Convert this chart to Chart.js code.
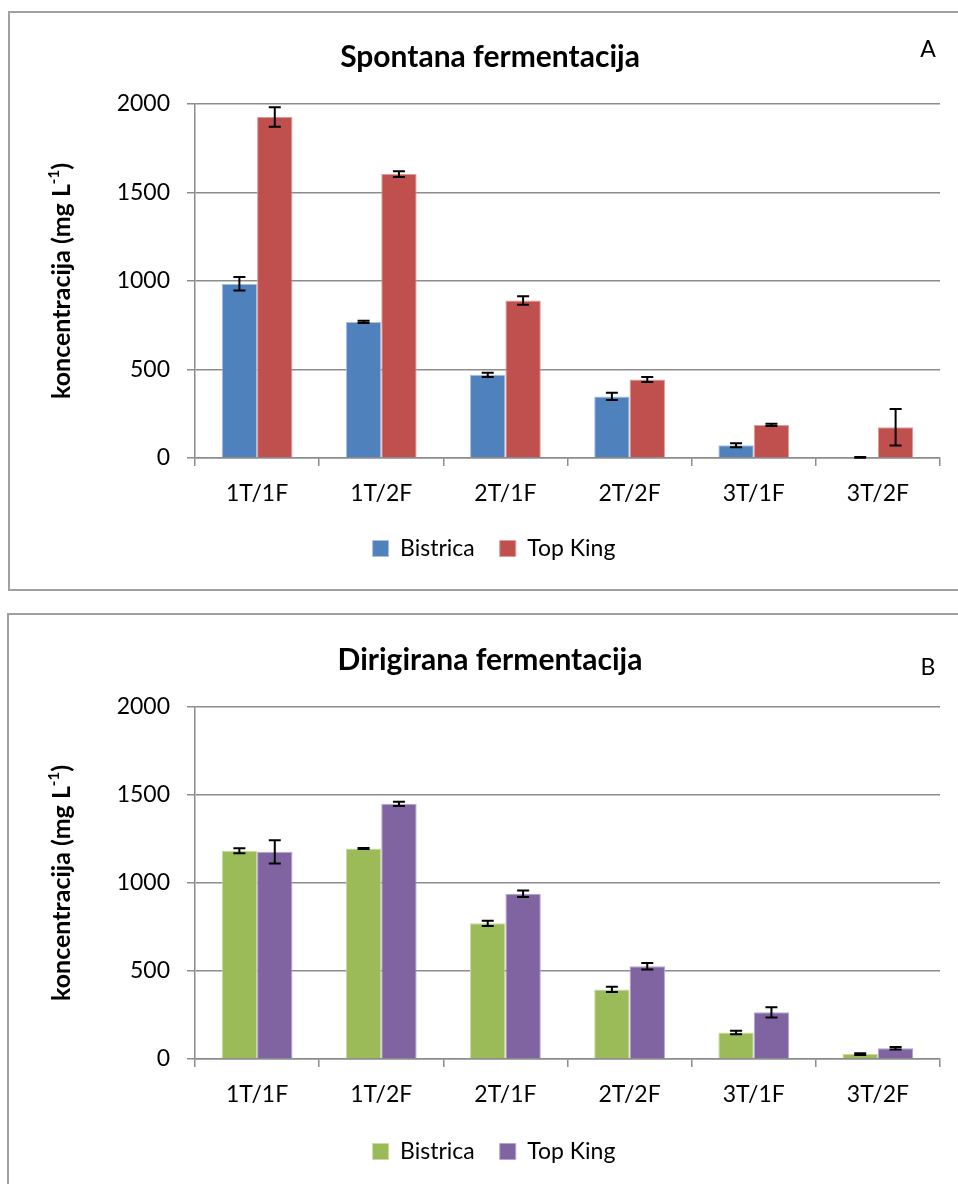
<!DOCTYPE html>
<html>
<head>
<meta charset="utf-8">
<script src="https://cdn.jsdelivr.net/npm/chart.js@4.4.1/dist/chart.umd.min.js"></script>
<style>
  body { margin: 0; background: #fff; width: 958px; height: 1184px; overflow: hidden; position: relative; }
  .frame { position: absolute; border: 2px solid #a0a0a0; }
  canvas { position: absolute; left: 0; }
</style>
</head>
<body>
<div class="frame" style="left:8px; top:11px; width:1000px; height:576px;"></div>
<div class="frame" style="left:7px; top:613px; width:1000px; height:640px;"></div>
<canvas id="chartA" width="958" height="600" style="top:0px;"></canvas>
<canvas id="chartB" width="958" height="584" style="top:600px;"></canvas>
<script>
const categories = ['1T/1F', '1T/2F', '2T/1F', '2T/2F', '3T/1F', '3T/2F'];
const yTicks = [0, 500, 1000, 1500, 2000];

// A - spontana fermentacija
const spontBistrica = [985, 769, 470, 348, 72, 4];
const spontBistricaErr = [38, 6, 12, 20, 11, 2];
const spontTopKing = [1926, 1604, 890, 443, 187, 174];
const spontTopKingErr = [55, 16, 24, 14, 6, 103];

// B - dirigirana fermentacija
const dirBistrica = [1183, 1196, 771, 395, 151, 28];
const dirBistricaErr = [14, 3, 15, 15, 10, 5];
const dirTopKing = [1177, 1450, 939, 527, 265, 61];
const dirTopKingErr = [66, 12, 19, 18, 29, 7];

const FONT = 'Lato, "Open Sans", sans-serif';
const GRID = '#8c8c8c';

// error bars drawn from each bar element + the y scale
const errorBars = {
  id: 'errorBars',
  afterDatasetsDraw(chart) {
    const ctx = chart.ctx;
    const y = chart.scales.y;
    ctx.save();
    ctx.strokeStyle = '#000';
    ctx.lineWidth = 2;
    chart.data.datasets.forEach((ds, i) => {
      const meta = chart.getDatasetMeta(i);
      meta.data.forEach((bar, j) => {
        const v = ds.data[j], e = ds.errors[j];
        const top = y.getPixelForValue(v + e);
        const bot = y.getPixelForValue(v - e);
        ctx.beginPath();
        ctx.moveTo(bar.x, top); ctx.lineTo(bar.x, bot);
        ctx.moveTo(bar.x - 6, top); ctx.lineTo(bar.x + 6, top);
        ctx.moveTo(bar.x - 6, bot); ctx.lineTo(bar.x + 6, bot);
        ctx.stroke();
      });
    });
    ctx.restore();
  }
};

// title, panel letter and y title with superscript
const decorations = {
  id: 'decorations',
  afterDraw(chart) {
    const o = chart.options.plugins.decorations;
    const ctx = chart.ctx;
    const area = chart.chartArea;
    ctx.save();
    ctx.fillStyle = '#000';
    ctx.textBaseline = 'middle';
    ctx.textAlign = 'center';
    ctx.font = 'bold 30px ' + FONT;
    ctx.fillText(o.title, 490, o.titleY);
    ctx.font = '23px ' + FONT;
    ctx.fillText(o.letter, 928, o.letterY);

    // rotated y axis title
    ctx.translate(62, (area.top + area.bottom) / 2);
    ctx.rotate(-Math.PI / 2);
    const main = 'koncentracija (mg L';
    const sup = '-1';
    const end = ')';
    ctx.font = 'bold 25px ' + FONT;
    const w1 = ctx.measureText(main).width;
    const w3 = ctx.measureText(end).width;
    ctx.font = 'bold 15px ' + FONT;
    const w2 = ctx.measureText(sup).width;
    let x = -(w1 + w2 + w3) / 2;
    ctx.textAlign = 'left';
    ctx.font = 'bold 25px ' + FONT;
    ctx.fillText(main, x, 0);
    x += w1;
    ctx.font = 'bold 15px ' + FONT;
    ctx.fillText(sup, x, -8);
    x += w2;
    ctx.font = 'bold 25px ' + FONT;
    ctx.fillText(end, x, 0);
    ctx.restore();
  }
};

function createChart(canvasId, series, colors, borders, deco, topPad, xHeight, bottomPad) {
  const ctx = document.getElementById(canvasId).getContext('2d');
  return new Chart(ctx, {
    type: 'bar',
    data: {
      labels: categories,
      datasets: series.map((s, i) => ({
        label: s.label,
        data: s.data,
        errors: s.errors,
        backgroundColor: colors[i],
        borderColor: borders[i],
        borderWidth: 1,
        barPercentage: 1.0,
        categoryPercentage: 0.57
      }))
    },
    options: {
      responsive: false,
      animation: false,
      devicePixelRatio: 1,
      layout: { padding: { left: 48, right: 18, top: topPad, bottom: bottomPad } },
      scales: {
        x: {
          grid: { drawOnChartArea: false, color: GRID, lineWidth: 1.5, tickLength: 8, offset: true },
          border: { color: GRID, width: 1.5 },
          ticks: { color: '#000', font: { family: FONT, size: 23 }, padding: 14, maxRotation: 0 },
          afterFit(scale) { scale.height = xHeight; }
        },
        y: {
          min: yTicks[0],
          max: yTicks[yTicks.length - 1],
          ticks: {
            stepSize: yTicks[1] - yTicks[0],
            color: '#000',
            font: { family: FONT, size: 23 },
            padding: 17,
            callback: v => String(v)
          },
          grid: { color: GRID, lineWidth: 1.5, tickLength: 8 },
          border: { color: GRID, width: 1.5 },
          afterFit(scale) { scale.width = 147; }
        }
      },
      plugins: {
        legend: {
          position: 'bottom',
          labels: {
            color: '#000',
            font: { family: FONT, size: 23 },
            boxWidth: 16,
            boxHeight: 16,
            padding: 25
          }
        },
        tooltip: { enabled: false },
        decorations: deco
      }
    },
    plugins: [errorBars, decorations]
  });
}

createChart('chartA',
  [
    { label: 'Bistrica', data: spontBistrica, errors: spontBistricaErr },
    { label: 'Top King', data: spontTopKing, errors: spontTopKingErr }
  ],
  ['#4F81BD', '#C0504D'],
  ['#a9c1e0', '#dc9c9a'],
  { title: 'Spontana fermentacija', titleY: 57, letter: 'A', letterY: 50 },
  104, 54, 30
);

createChart('chartB',
  [
    { label: 'Bistrica', data: dirBistrica, errors: dirBistricaErr },
    { label: 'Top King', data: dirTopKing, errors: dirTopKingErr }
  ],
  ['#9BBB59', '#8064A2'],
  ['#c8dca0', '#b5a4cc'],
  { title: 'Dirigirana fermentacija', titleY: 60, letter: 'B', letterY: 68 },
  107, 56, 11
);
</script>
</body>
</html>
